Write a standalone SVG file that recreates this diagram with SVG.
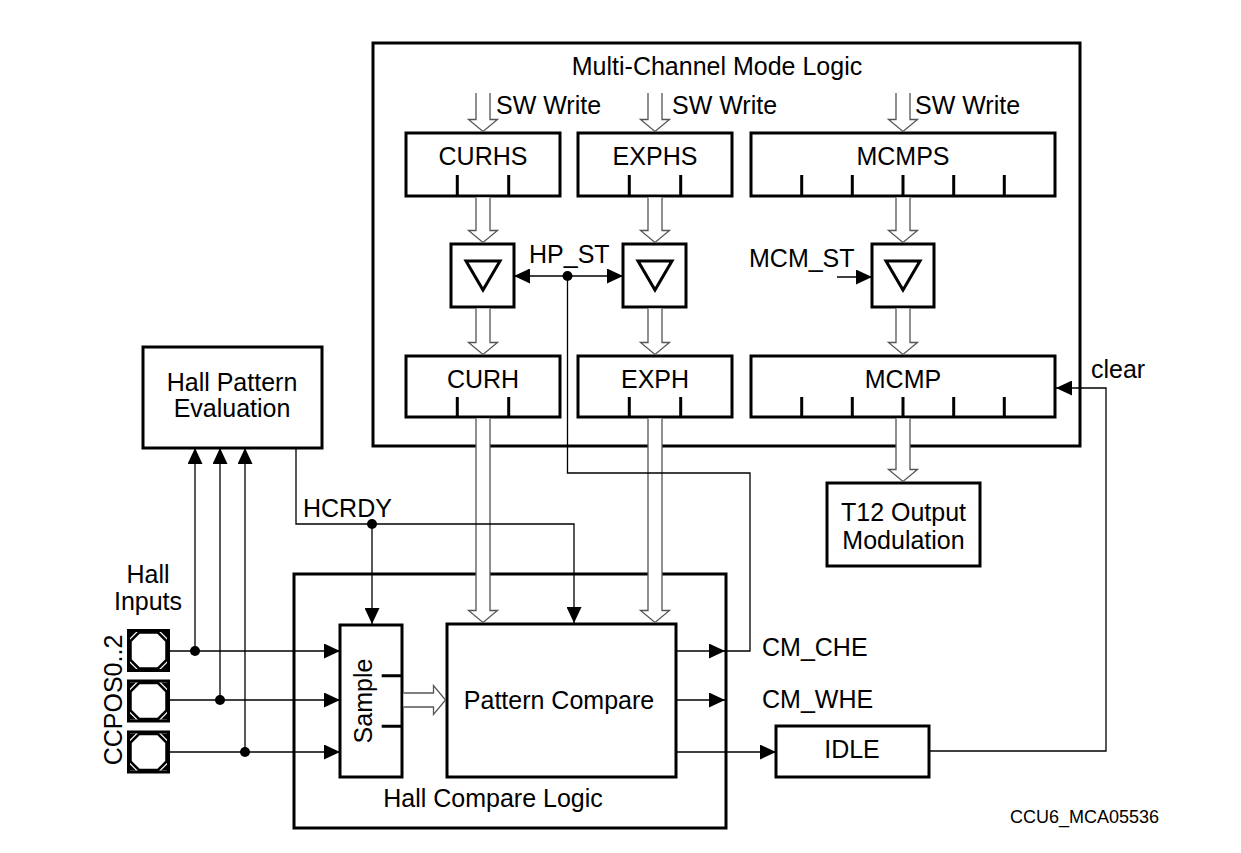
<svg xmlns="http://www.w3.org/2000/svg" width="1241" height="853" viewBox="0 0 1241 853">
<style>
  .box{fill:#fff;stroke:#000;stroke-width:3}
  .cont{fill:none;stroke:#000;stroke-width:3}
  .tick{stroke:#000;stroke-width:3;fill:none}
  .t{font-family:"Liberation Sans",Arial,sans-serif;font-size:25px;fill:#000}
  .m{text-anchor:middle}
  .small{font-size:18px}
  .bus{fill:#fff;stroke:#555;stroke-width:1.3}
  .wire{fill:none;stroke:#000;stroke-width:1.3}
  .arr{marker-end:url(#ah)}
  .tri{fill:none;stroke:#000;stroke-width:3;stroke-linejoin:miter}
</style>
<defs>
  <marker id="ah" markerWidth="16" markerHeight="15" refX="16" refY="7.5" orient="auto" markerUnits="userSpaceOnUse">
    <path d="M0,0 L16,7.5 L0,15 z" fill="#000"/>
  </marker>
  <g id="pin">
    <rect x="1.5" y="1.5" width="40" height="40" fill="#fff" stroke="#000" stroke-width="3"/>
    <polygon points="12,3.5 31,3.5 39.5,12 39.5,31 31,39.5 12,39.5 3.5,31 3.5,12" fill="#fff" stroke="#000" stroke-width="2.5"/>
    <polygon points="3,3 9,3 3,9" fill="#000"/>
    <polygon points="40,3 34,3 40,9" fill="#000"/>
    <polygon points="3,40 9,40 3,34" fill="#000"/>
    <polygon points="40,40 34,40 40,34" fill="#000"/>
  </g>
</defs>
<rect x="0" y="0" width="1241" height="853" fill="#fff"/>

<g id="multi-channel-mode-logic">
  <rect class="cont" x="373" y="43" width="707" height="403"/>
  <text class="t m" x="717" y="75">Multi-Channel Mode Logic</text>
  <text class="t" x="496" y="114">SW Write</text>
  <text class="t" x="672" y="114">SW Write</text>
  <text class="t" x="915" y="114">SW Write</text>
</g>

<g id="curhs">
  <rect class="box" x="406" y="133" width="154" height="63"/>
  <path class="tick" d="M457.3,175 V196 M508.7,175 V196"/>
  <text class="t m" x="483" y="165">CURHS</text>
</g>
<g id="exphs">
  <rect class="box" x="578" y="133" width="154" height="63"/>
  <path class="tick" d="M629.3,175 V196 M680.7,175 V196"/>
  <text class="t m" x="655" y="165">EXPHS</text>
</g>
<g id="mcmps">
  <rect class="box" x="751" y="133" width="304" height="63"/>
  <path class="tick" d="M801.7,175 V196 M852.3,175 V196 M903,175 V196 M953.7,175 V196 M1004.3,175 V196"/>
  <text class="t m" x="903" y="165">MCMPS</text>
</g>

<g id="trig-curh">
  <rect class="box" x="451" y="244" width="63" height="63"/>
  <polygon class="tri" points="466,261 500,261 483,290"/>
</g>
<g id="trig-exph">
  <rect class="box" x="623" y="244" width="63" height="63"/>
  <polygon class="tri" points="638,261 672,261 655,290"/>
</g>
<g id="trig-mcmp">
  <rect class="box" x="872" y="244" width="62" height="63"/>
  <polygon class="tri" points="886,261 920,261 903,290"/>
</g>

<g id="curh">
  <rect class="box" x="406" y="356" width="154" height="61"/>
  <path class="tick" d="M457.3,397 V417 M508.7,397 V417"/>
  <text class="t m" x="483" y="388">CURH</text>
</g>
<g id="exph">
  <rect class="box" x="578" y="356" width="154" height="61"/>
  <path class="tick" d="M629.3,397 V417 M680.7,397 V417"/>
  <text class="t m" x="655" y="388">EXPH</text>
</g>
<g id="mcmp">
  <rect class="box" x="751" y="356" width="304" height="61"/>
  <path class="tick" d="M801.7,397 V417 M852.3,397 V417 M903,397 V417 M953.7,397 V417 M1004.3,397 V417"/>
  <text class="t m" x="903" y="388">MCMP</text>
</g>

<g id="hall-pattern-evaluation">
  <rect class="box" x="143" y="347" width="179" height="101"/>
  <text class="t m" x="232" y="391">Hall Pattern</text>
  <text class="t m" x="232" y="417">Evaluation</text>
</g>

<g id="t12-output-modulation">
  <rect class="box" x="827" y="483" width="153" height="83"/>
  <text class="t m" x="903.5" y="521">T12 Output</text>
  <text class="t m" x="903.5" y="549">Modulation</text>
</g>

<g id="hall-compare-logic">
  <rect class="cont" x="294" y="574" width="432" height="254"/>
  <text class="t m" x="493" y="807">Hall Compare Logic</text>
</g>

<g id="sample">
  <rect class="box" x="340" y="625" width="62" height="152"/>
  <path class="tick" d="M381.7,675.7 H402 M381.7,726.3 H402"/>
  <text class="t m" transform="translate(372,701) rotate(-90)">Sample</text>
</g>

<g id="pattern-compare">
  <rect class="box" x="447" y="624" width="229" height="153"/>
  <text class="t m" x="559" y="709">Pattern Compare</text>
</g>

<g id="idle">
  <rect class="box" x="776" y="726" width="153" height="51"/>
  <text class="t m" x="852" y="758">IDLE</text>
</g>

<g id="hall-inputs">
  <text class="t m" x="148" y="583">Hall</text>
  <text class="t m" x="148" y="610">Inputs</text>
  <text class="t m" transform="translate(122,700) rotate(-90)">CCPOS0..2</text>
  <use href="#pin" x="127" y="629"/>
  <use href="#pin" x="127" y="679.5"/>
  <use href="#pin" x="127" y="730.5"/>
</g>

<g id="connectors">
  <path class="bus" d="M476,93 V119.5 H468.5 L483,131.5 L497.5,119.5 H490 V93"/>
  <path class="bus" d="M648,93 V119.5 H640.5 L655,131.5 L669.5,119.5 H662 V93"/>
  <path class="bus" d="M896,93 V119.5 H888.5 L903,131.5 L917.5,119.5 H910 V93"/>
  <path class="bus" d="M476,197.5 V230.5 H468.5 L483,242.5 L497.5,230.5 H490 V197.5"/>
  <path class="bus" d="M648,197.5 V230.5 H640.5 L655,242.5 L669.5,230.5 H662 V197.5"/>
  <path class="bus" d="M896,197.5 V230.5 H888.5 L903,242.5 L917.5,230.5 H910 V197.5"/>
  <path class="bus" d="M476,308.5 V342.5 H468.5 L483,354.5 L497.5,342.5 H490 V308.5"/>
  <path class="bus" d="M648,308.5 V342.5 H640.5 L655,354.5 L669.5,342.5 H662 V308.5"/>
  <path class="bus" d="M896,308.5 V342.5 H888.5 L903,354.5 L917.5,342.5 H910 V308.5"/>
  <path class="bus" d="M476,418.5 V610.5 H468.5 L483,622.5 L497.5,610.5 H490 V418.5"/>
  <path class="bus" d="M648,418.5 V610.5 H640.5 L655,622.5 L669.5,610.5 H662 V418.5"/>
  <path class="bus" d="M896,418.5 V469.5 H888.5 L903,481.5 L917.5,469.5 H910 V418.5"/>
  <path class="bus" d="M403.5,693 H433.5 V685.5 L445.5,700 L433.5,714.5 V707 H403.5"/>

  <path class="wire arr" d="M567.5,276 H514"/>
  <path class="wire arr" d="M567.5,276 H623"/>
  <circle cx="567.5" cy="276" r="5" fill="#000"/>
  <text class="t" x="529" y="263">HP_ST</text>
  <path class="wire" d="M724,651 H750 V473 H567.5 V276"/>
  <path class="wire arr" d="M676,651 H725"/>
  <text class="t" x="762" y="656">CM_CHE</text>
  <path class="wire arr" d="M676,700 H725"/>
  <text class="t" x="762" y="708">CM_WHE</text>
  <path class="wire arr" d="M676,752 H776"/>
  <path class="wire arr" d="M929,751 H1106 V388 H1056"/>
  <text class="t" x="1091" y="378">clear</text>
  <path class="wire arr" d="M837,277 H872"/>
  <text class="t" x="749" y="267">MCM_ST</text>
  <path class="wire arr" d="M296,448 V524 H574 V623"/>
  <path class="wire arr" d="M372,524 V624"/>
  <circle cx="372" cy="524" r="5" fill="#000"/>
  <text class="t" x="303" y="517">HCRDY</text>
  <path class="wire arr" d="M170,651 H340"/>
  <path class="wire arr" d="M170,700 H340"/>
  <path class="wire arr" d="M170,752 H340"/>
  <path class="wire arr" d="M195,651 V448"/>
  <path class="wire arr" d="M220,700 V448"/>
  <path class="wire arr" d="M245,752 V448"/>
  <circle cx="195" cy="651" r="5" fill="#000"/>
  <circle cx="220" cy="700" r="5" fill="#000"/>
  <circle cx="245" cy="752" r="5" fill="#000"/>
</g>

<text class="t small" x="1010" y="823">CCU6_MCA05536</text>
</svg>
